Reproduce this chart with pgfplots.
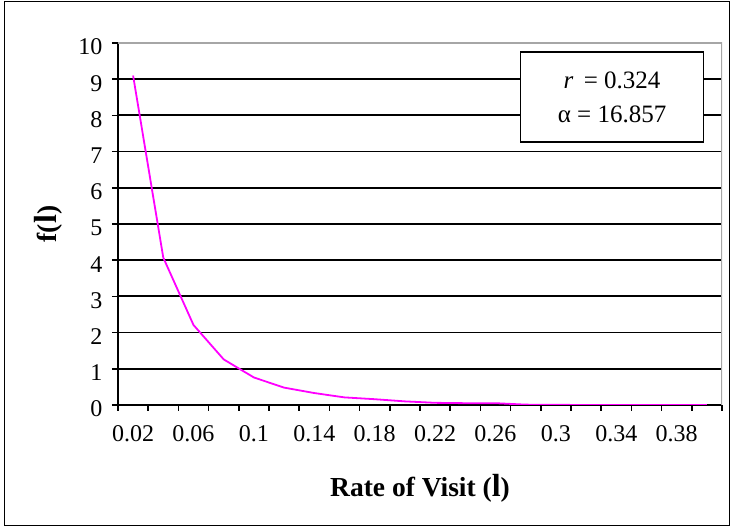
\documentclass[border=0pt]{standalone}
\usepackage{fontspec}
\setmainfont{Liberation Serif}
\usepackage{pgfplots}
\pgfplotsset{compat=1.18}
\definecolor{curvemag}{RGB}{255,0,255}
\begin{document}
\begin{tikzpicture}
\useasboundingbox (0pt,0pt) rectangle (732pt,527pt);
\draw[black, line width=1pt] (4.5pt,1.5pt) rectangle (729pt,525pt);
\begin{axis}[
  at={(118pt,122pt)}, anchor=south west,
  width=604pt, height=362pt, scale only axis,
  xmin=0.5, xmax=20.5, ymin=0, ymax=10,
  axis x line*=bottom, axis y line*=left,
  axis line style={line width=1.6pt, black},
  xtick={0.5,1.5,...,20.5}, xticklabels={},
  extra x ticks={1,3,...,19},
  extra x tick labels={0.02,0.06,0.1,0.14,0.18,0.22,0.26,0.3,0.34,0.38},
  extra x tick style={major tick length=0pt, grid=none, xticklabel style={yshift=-17pt}},
  ytick={0,1,...,10},
  tick align=outside, major tick length=6pt,
  tick style={line width=1.5pt, black},
  ymajorgrids, grid style={line width=1.8pt, black},
  tick label style={font=\fontsize{24}{27}\selectfont},
  yticklabel style={yshift=-4pt, xshift=-6pt},
  /pgf/number format/assume math mode=true,
  xlabel={\textbf{Rate of Visit ({\fontsize{32}{32}\selectfont l})}},
  ylabel={\textbf{f({\fontsize{32}{32}\selectfont l})}},
  label style={font=\fontsize{27.5}{30}\selectfont},
  xlabel style={at={(axis description cs:0.5,-0.229)}, anchor=center},
  ylabel style={at={(axis description cs:-0.115,0.5)}, anchor=center},
]
\addplot[color=curvemag, line width=1.8pt, mark=none] coordinates {
 (1,9.1) (2,4.07) (3,2.21) (4,1.26) (5,0.76) (6,0.48) (7,0.33) (8,0.21)
 (9,0.16) (10,0.10) (11,0.06) (12,0.05) (13,0.05) (14,0.01) (15,0.005)
 (16,0) (17,0) (18,0) (19,0) (20,0)
};
\draw[gray!70, line width=1.5pt] (rel axis cs:0,1) -- (rel axis cs:1,1) -- (rel axis cs:1,0);
\node[draw=black, line width=1.2pt, fill=white, minimum width=183pt, minimum height=90pt,
  align=center, font=\fontsize{25}{34}\selectfont]
  at (axis description cs:0.818,0.851) {\textit{r}\, = 0.324\\α = 16.857};
\end{axis}
\end{tikzpicture}
\end{document}
